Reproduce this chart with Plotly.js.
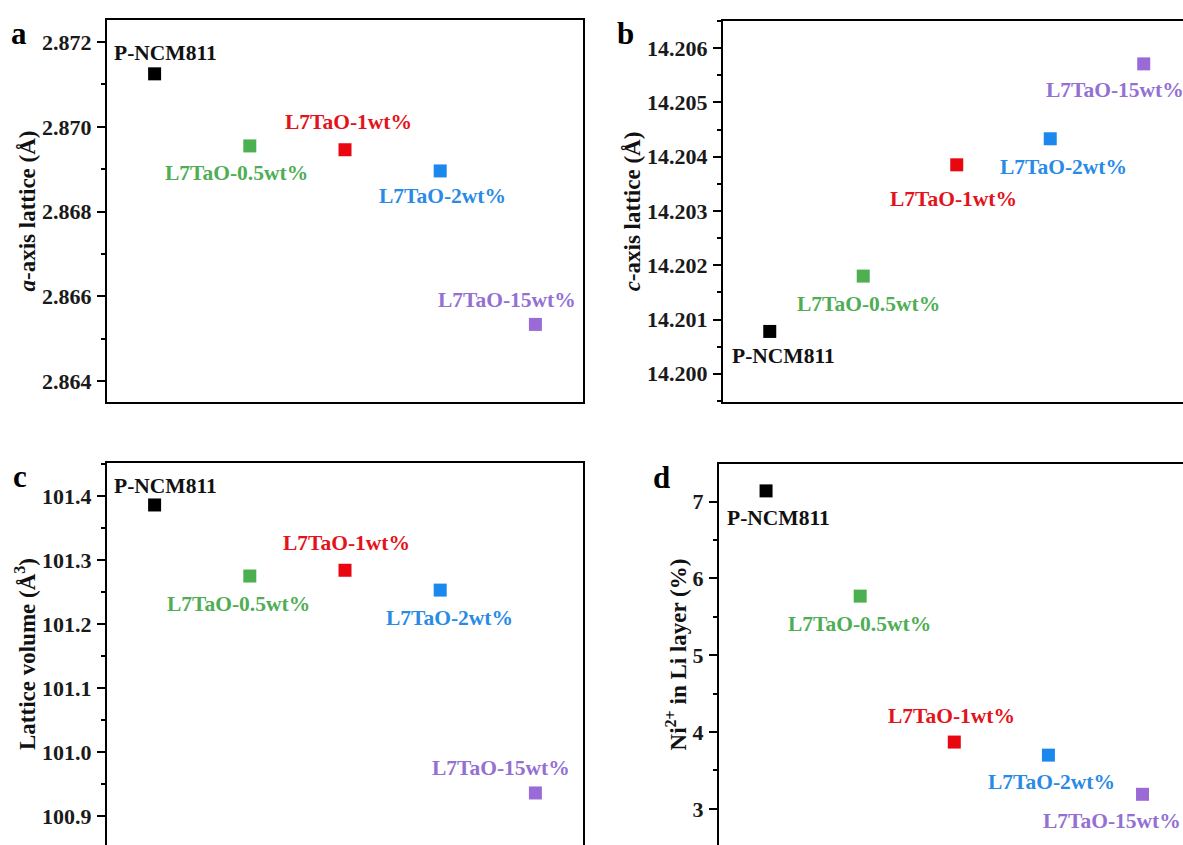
<!DOCTYPE html>
<html>
<head>
<meta charset="utf-8">
<script src="https://cdn.plot.ly/plotly-3.0.1.min.js"></script>
<style>html,body{margin:0;padding:0;background:#fff;}#chart{width:1183px;height:845px;}</style>
</head>
<body>
<div id="chart"></div>
<script>
// ---- data ----
const samples = ['P-NCM811', 'L7TaO-0.5wt%', 'L7TaO-1wt%', 'L7TaO-2wt%', 'L7TaO-15wt%'];
const sampleIndex = [1, 2, 3, 4, 5];
const aLattice = [2.87125, 2.86955, 2.86946, 2.86896, 2.86534];
const cLattice = [14.20078, 14.20180, 14.20385, 14.20433, 14.20571];
const latticeVolume = [101.386, 101.275, 101.284, 101.253, 100.936];
const niInLiLayer = [7.14, 5.77, 3.87, 3.70, 3.19];
const panelLetters = ['a', 'b', 'c', 'd'];
const axisTitles = ['<i>a</i>-axis lattice (Å)', '<i>c</i>-axis lattice (Å)', 'Lattice volume (Å<sup>3</sup>)', 'Ni<sup>2+</sup> in Li layer (%)'];

// ---- styles ----
const markerColors = ['#000000', '#4caf50', '#e8060f', '#1b88ee', '#9a6ad6'];
const textColors = ['#111111', '#4fae55', '#e3131b', '#2a8be6', '#9470d2'];
const FONT = 'Liberation Serif, Times New Roman, serif';

const panels = [
  {y: aLattice, xa: 'x', ya: 'y', xdom: [107/1183, 583/1183], ydom: [1-402/845, 1-20/845],
   xr: [0.5, 5.5], yr: [2.86351, 2.87252], dtick: 0.002, minor: 0.001, fmt: '.3f', tick0: 2.864,
   top: false, mirrorY: true,
   shifts: [[11,21],[-13,-27],[3,28],[2,-25],[-28,24]]},
  {y: cLattice, xa: 'x2', ya: 'y2', xdom: [723/1183, 1], ydom: [1-402/845, 1-21/845],
   xr: [0.5, 5.42], yr: [14.19948, 14.2065], dtick: 0.001, minor: 0.0005, fmt: '.3f', tick0: 14.2,
   top: false, mirrorY: false,
   shifts: [[14,-25],[5,-28],[-3,-34],[13,-28],[-29,-26]]},
  {y: latticeVolume, xa: 'x3', ya: 'y3', xdom: [107/1183, 583/1183], ydom: [0, 1-463/845],
   xr: [0.5, 5.5], yr: [100.8547, 101.4516], dtick: 0.1, minor: 0.05, fmt: '.1f', tick0: 100.9,
   top: true, mirrorY: true,
   shifts: [[11,19],[-11,-28],[1,27],[9,-28],[-34,25]]},
  {y: niInLiLayer, xa: 'x4', ya: 'y4', xdom: [719/1183, 1], ydom: [0, 1-464/845],
   xr: [0.5, 5.43], yr: [2.53, 7.49], dtick: 1, minor: 0.5, fmt: 'd', tick0: 3,
   top: true, mirrorY: false,
   shifts: [[12,-27],[-1,-28],[-3,26],[3,-27],[-31,-27]]}
];

const data = [];
const layout = {
  width: 1183, height: 845,
  margin: {l: 0, r: 0, t: 0, b: 0},
  paper_bgcolor: '#ffffff', plot_bgcolor: '#ffffff',
  showlegend: false,
  font: {family: FONT, color: '#111111'},
  annotations: []
};

const letterPos = [[19, 14], [625, 14], [20, 457], [661, 458]];

panels.forEach((p, i) => {
  data.push({
    type: 'scatter', mode: 'markers',
    x: sampleIndex, y: p.y, xaxis: p.xa, yaxis: p.ya,
    text: samples,
    marker: {symbol: 'square', size: 13, color: markerColors, line: {width: 0}},
    hoverinfo: 'text+y'
  });
  const xk = i === 0 ? 'xaxis' : 'xaxis' + (i + 1);
  const yk = i === 0 ? 'yaxis' : 'yaxis' + (i + 1);
  layout[xk] = {
    domain: p.xdom, range: p.xr, anchor: p.ya,
    showgrid: false, zeroline: false, showticklabels: false, ticks: '',
    showline: true, linecolor: '#000', linewidth: 2,
    side: p.top ? 'top' : 'bottom', mirror: !p.top, fixedrange: true
  };
  layout[yk] = {
    domain: p.ydom, range: p.yr, anchor: p.xa,
    showgrid: false, zeroline: false,
    showline: true, linecolor: '#000', linewidth: 2, mirror: p.mirrorY,
    ticks: 'outside', ticklen: 8, tickwidth: 2, tickcolor: '#000',
    ticklabelstandoff: 1,
    tick0: p.tick0, dtick: p.dtick, tickformat: p.fmt,
    minor: {ticks: 'outside', ticklen: 4, tickwidth: 2, tickcolor: '#000', dtick: p.minor, tick0: p.tick0},
    tickfont: {family: FONT, size: 22, color: '#1a1a1a', weight: 'bold'},
    title: {text: axisTitles[i], font: {family: FONT, size: 23, color: '#111', weight: 'bold'}, standoff: 0},
    automargin: false, fixedrange: true
  };
  samples.forEach((s, k) => {
    layout.annotations.push({
      xref: p.xa, yref: p.ya, x: sampleIndex[k], y: p.y[k],
      xshift: p.shifts[k][0], yshift: p.shifts[k][1],
      text: s, showarrow: false, xanchor: 'center', yanchor: 'middle',
      font: {family: FONT, size: 21.5, color: textColors[k], weight: 'bold'}
    });
  });
  layout.annotations.push({
    xref: 'paper', yref: 'paper',
    x: letterPos[i][0] / 1183, y: 1 - letterPos[i][1] / 845,
    text: panelLetters[i], showarrow: false, xanchor: 'center', yanchor: 'top',
    font: {family: FONT, size: 31, color: '#000', weight: 'bold'}
  });
});

Plotly.newPlot('chart', data, layout, {displayModeBar: false, staticPlot: true});
</script>
</body>
</html>
